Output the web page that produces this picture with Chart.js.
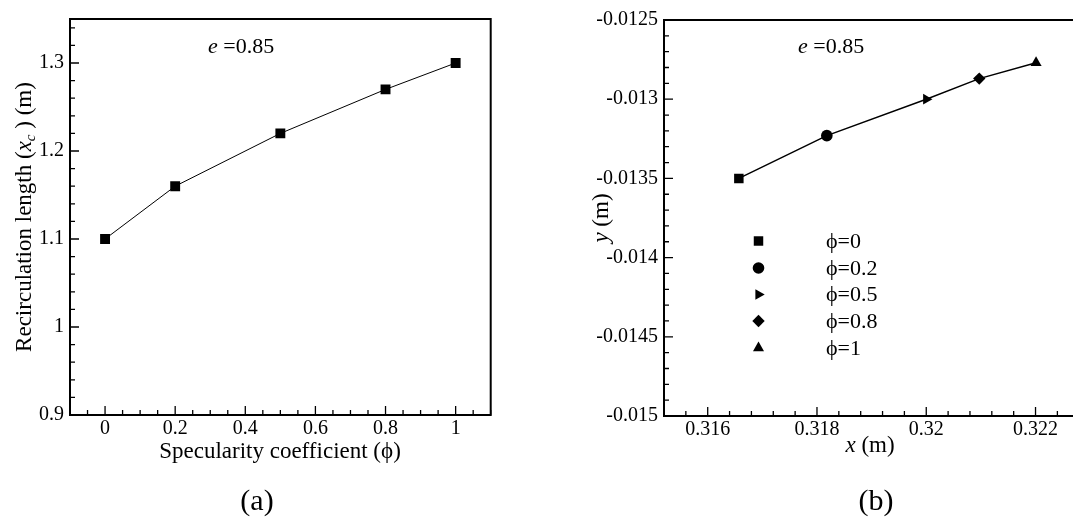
<!DOCTYPE html>
<html>
<head>
<meta charset="utf-8">
<script src="https://cdn.jsdelivr.net/npm/chart.js@4.4.1/dist/chart.umd.min.js"></script>
<style>
  html, body { margin: 0; padding: 0; background: #fff; overflow: hidden; }
  #wrap { position: relative; width: 1073px; height: 520px; overflow: hidden; background: #fff; }
  #cA { position: absolute; left: 0; top: 0; }
  #cB { position: absolute; left: 540px; top: 0; }
</style>
</head>
<body>
<div id="wrap">
  <canvas id="cA" width="540" height="520"></canvas>
  <canvas id="cB" width="560" height="520"></canvas>
</div>
<script>
// ---- Panel (a): recirculation length vs. specularity coefficient ----
const phiValues = [0, 0.2, 0.5, 0.8, 1];
const recircLength = [1.10, 1.16, 1.22, 1.27, 1.30];
const xTicksA = [0, 0.2, 0.4, 0.6, 0.8, 1];
const xTickLabelsA = ['0', '0.2', '0.4', '0.6', '0.8', '1'];
const yTicksA = [0.9, 1, 1.1, 1.2, 1.3];
const yTickLabelsA = ['0.9', '1', '1.1', '1.2', '1.3'];

// ---- Panel (b): reattachment point (x, y) for each specularity coefficient ----
const caseLabelsB = ['ϕ=0', 'ϕ=0.2', 'ϕ=0.5', 'ϕ=0.8', 'ϕ=1'];
const xPosB = [0.31657, 0.31818, 0.32000, 0.32097, 0.32201];
const yPosB = [-0.01350, -0.01323, -0.01300, -0.01287, -0.01277];
const xTicksB = [0.316, 0.318, 0.32, 0.322];
const xTickLabelsB = ['0.316', '0.318', '0.32', '0.322'];
const yTicksB = [-0.0125, -0.013, -0.0135, -0.014, -0.0145, -0.015];
const yTickLabelsB = ['-0.0125', '-0.013', '-0.0135', '-0.014', '-0.0145', '-0.015'];

// marker styling for panel (b)
const markerStyleB = ['rect', 'circle', 'triangle', 'rectRot', 'triangle'];
const markerRotationB = [0, 0, 90, 0, 0];
const markerRadiusB = [6.7, 5.8, 6.2, 6.2, 6.4];

const SERIF = '"Liberation Serif", "Times New Roman", "DejaVu Serif", serif';
const fnt = (size, style) => (style ? style + ' ' : '') + size + 'px ' + SERIF;

// draw a line of text made of runs with different fonts
function drawRuns(ctx, runs, x, y, align) {
  let total = 0;
  runs.forEach(r => { ctx.font = r.font; r.w = ctx.measureText(r.text).width; total += r.w; });
  let cx = align === 'center' ? x - total / 2 : (align === 'right' ? x - total : x);
  ctx.textAlign = 'left';
  runs.forEach(r => { ctx.font = r.font; ctx.fillText(r.text, cx, y + (r.dy || 0)); cx += r.w; });
}

// inward major/minor ticks on the left and bottom axes plus a closed frame
function frameTicks(minorX, minorY) {
  return {
    id: 'frameTicks',
    beforeDatasetsDraw(chart) {
      const { ctx, chartArea: a, scales: { x, y } } = chart;
      const near = (v, list, step) => list.some(m => Math.abs(m - v) < step * 0.01);
      ctx.save();
      ctx.strokeStyle = '#000';
      ctx.lineWidth = 1.3;
      ctx.beginPath();
      x.ticks.forEach(t => {
        const px = x.getPixelForValue(t.value);
        ctx.moveTo(px, a.bottom); ctx.lineTo(px, a.bottom - 9);
      });
      for (let k = Math.ceil(x.min / minorX); k * minorX <= x.max; k++) {
        const v = k * minorX;
        if (near(v, x.ticks.map(t => t.value), minorX)) continue;
        const px = x.getPixelForValue(v);
        ctx.moveTo(px, a.bottom); ctx.lineTo(px, a.bottom - 5);
      }
      y.ticks.forEach(t => {
        const py = y.getPixelForValue(t.value);
        ctx.moveTo(a.left, py); ctx.lineTo(a.left + 9, py);
      });
      for (let k = Math.ceil(y.min / minorY); k * minorY <= y.max; k++) {
        const v = k * minorY;
        if (near(v, y.ticks.map(t => t.value), minorY)) continue;
        const py = y.getPixelForValue(v);
        ctx.moveTo(a.left, py); ctx.lineTo(a.left + 5, py);
      }
      ctx.stroke();
      ctx.lineWidth = 2;
      ctx.strokeRect(a.left, a.top, a.right - a.left, a.bottom - a.top);
      ctx.restore();
    }
  };
}

function axisOpts(min, max, values, labels, pad, fit) {
  return {
    type: 'linear', min: min, max: max,
    grid: { display: false, drawTicks: false },
    border: { display: false },
    afterBuildTicks: s => { s.ticks = values.map(v => ({ value: v })); },
    afterFit: fit,
    ticks: {
      padding: pad, color: '#000', autoSkip: false, maxRotation: 0,
      font: { family: SERIF, size: 20 },
      callback: v => labels[values.indexOf(v)]
    }
  };
}

// ---------------- Panel (a) ----------------
new Chart(document.getElementById('cA'), {
  type: 'scatter',
  data: {
    datasets: [{
      data: phiValues.map((v, i) => ({ x: v, y: recircLength[i] })),
      showLine: true, tension: 0,
      borderColor: '#000', borderWidth: 1,
      backgroundColor: '#000',
      pointStyle: 'rect', pointRadius: 7, pointBorderWidth: 0
    }]
  },
  options: {
    responsive: false, animation: false, events: [], devicePixelRatio: 1,
    layout: { padding: { left: 0, top: 19, right: 49.3, bottom: 0 } },
    plugins: { legend: { display: false }, tooltip: { enabled: false } },
    scales: {
      x: axisOpts(-0.1, 1.1, xTicksA, xTickLabelsA, 2, s => { s.height = 105; }),
      y: axisOpts(0.9, 1.35, yTicksA, yTickLabelsA, 6, s => { s.width = 70; })
    }
  },
  plugins: [frameTicks(0.05, 0.02), {
    id: 'textA',
    afterDraw(chart) {
      const ctx = chart.ctx;
      ctx.save();
      ctx.fillStyle = '#000';
      ctx.textBaseline = 'alphabetic';
      drawRuns(ctx, [{ text: 'e', font: fnt(22, 'italic') }, { text: ' =0.85', font: fnt(22) }], 208, 53, 'left');
      drawRuns(ctx, [{ text: 'Specularity coefficient (ϕ)', font: fnt(23) }], 280, 458, 'center');
      ctx.save();
      ctx.translate(31, 217);
      ctx.rotate(-Math.PI / 2);
      drawRuns(ctx, [
        { text: 'Recirculation length (', font: fnt(23) },
        { text: 'x', font: fnt(23, 'italic') },
        { text: 'c', font: fnt(15, 'italic'), dy: 4 },
        { text: ' ) (m)', font: fnt(23) }
      ], 0, 0, 'center');
      ctx.restore();
      ctx.textBaseline = 'middle';
      drawRuns(ctx, [{ text: '(a)', font: fnt(30) }], 257, 502, 'center');
      ctx.restore();
    }
  }]
});

// ---------------- Panel (b) ----------------
new Chart(document.getElementById('cB'), {
  type: 'scatter',
  data: {
    datasets: [{
      data: xPosB.map((v, i) => ({ x: v, y: yPosB[i] })),
      showLine: true, tension: 0,
      borderColor: '#000', borderWidth: 1.5,
      backgroundColor: '#000',
      pointStyle: markerStyleB, pointRotation: markerRotationB,
      pointRadius: markerRadiusB, pointBorderWidth: 0
    }]
  },
  options: {
    responsive: false, animation: false, events: [], devicePixelRatio: 1,
    layout: { padding: { left: 0, top: 20, right: 15.3, bottom: 0 } },
    plugins: { legend: { display: false }, tooltip: { enabled: false } },
    scales: {
      x: axisOpts(0.3152, 0.3229, xTicksB, xTickLabelsB, 2, s => { s.height = 104; }),
      y: axisOpts(-0.015, -0.0125, yTicksB, yTickLabelsB, 6, s => { s.width = 124; })
    }
  },
  plugins: [frameTicks(0.0004, 0.0001), {
    id: 'textB',
    afterDraw(chart) {
      const ctx = chart.ctx;
      ctx.save();
      ctx.fillStyle = '#000';
      ctx.textBaseline = 'alphabetic';
      drawRuns(ctx, [{ text: 'e', font: fnt(22, 'italic') }, { text: ' =0.85', font: fnt(22) }], 258, 53, 'left');
      drawRuns(ctx, [{ text: 'x', font: fnt(23, 'italic') }, { text: ' (m)', font: fnt(23) }], 330, 452, 'center');
      ctx.save();
      ctx.translate(68, 218);
      ctx.rotate(-Math.PI / 2);
      drawRuns(ctx, [{ text: 'y', font: fnt(23, 'italic') }, { text: ' (m)', font: fnt(23) }], 0, 0, 'center');
      ctx.restore();

      // legend: one marker per case
      const rowY = [241, 268, 294.5, 321, 348];
      ctx.textBaseline = 'middle';
      caseLabelsB.forEach((lab, i) => {
        if (Chart.helpers && Chart.helpers.drawPoint) {
          Chart.helpers.drawPoint(ctx, {
            pointStyle: markerStyleB[i], rotation: markerRotationB[i],
            radius: markerRadiusB[i], borderWidth: 0
          }, 218.5, rowY[i]);
        }
        ctx.fillStyle = '#000';
        drawRuns(ctx, [{ text: lab, font: fnt(22) }], 286, rowY[i] + 1, 'left');
      });
      drawRuns(ctx, [{ text: '(b)', font: fnt(30) }], 336, 502, 'center');
      ctx.restore();
    }
  }]
});
</script>
</body>
</html>
